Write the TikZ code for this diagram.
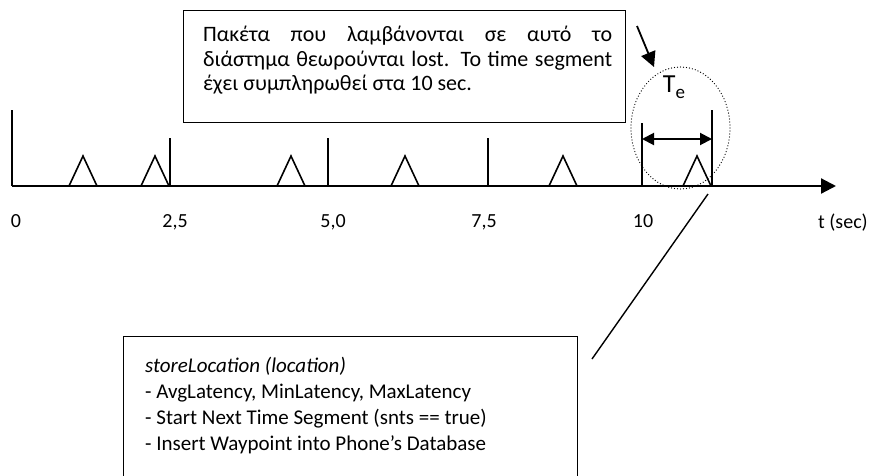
\documentclass[tikz,border=0pt]{standalone}
\usepackage{fontspec}
\setmainfont{Carlito}
\usetikzlibrary{arrows.meta,shapes.geometric}
\begin{document}
\begin{tikzpicture}[x=1pt,y=-1pt,
  axisline/.style={line width=2.2pt},
  tickline/.style={line width=1.6pt},
  pulse/.style={line width=1.6pt, line join=miter},
  boxstyle/.style={draw, line width=1.3pt, inner sep=0pt},
  lbl/.style={font=\fontsize{20}{22}\selectfont, inner sep=0pt, anchor=base},
  txt/.style={font=\fontsize{22}{24.5}\selectfont, inner sep=0pt, align=left},
  bigtip/.style={-{Triangle[length=15pt,width=15pt]}},
  dbltip/.style={{Triangle[length=12pt,width=12pt]}-{Triangle[length=12pt,width=12pt]}},
  dotline/.style={line width=1.3pt, line cap=round, dash pattern=on 0pt off 3pt}
]
\clip (0,0) rectangle (871,475);
\fill[white] (0,0) rectangle (871,475);

% axis
\coordinate (o) at (12,186);
\coordinate (axend) at (836,186);
\draw[axisline,bigtip] (o) -- (axend);
\draw[tickline] (o) -- (12,110);

% ticks
\coordinate (k1) at (170,186);
\coordinate (k2) at (328,186);
\coordinate (k3) at (488,186);
\coordinate (k4) at (642,186);
\coordinate (k5) at (712,186);
\draw[tickline] (k1) -- ++(0,-48);
\draw[tickline] (k2) -- ++(0,-48);
\draw[tickline] (k3) -- ++(0,-48);
\draw[tickline] (k4) -- ++(0,-63);
\draw[tickline] (k5) -- ++(0,-76);

% pulses
\foreach \c in {83,155,291,405,563,697}
  \draw[pulse] (\c-14,186) -- (\c,156) -- (\c+14,186);

% Te window
\node[draw, ellipse, dotline, minimum width=99pt, minimum height=122pt, inner sep=0pt] (win) at (680.5,128) {};
\draw[line width=2pt, dbltip] (642,139) -- (712,139);
\node[inner sep=0pt] (te) at (674,87) {\fontsize{26}{28}\selectfont T\raisebox{-6pt}{\fontsize{19}{20}\selectfont e}};

% labels
\node[lbl] (l0) at (16,227) {0};
\node[lbl] (l1) at (175,227) {2,5};
\node[lbl] (l2) at (333,227) {5,0};
\node[lbl] (l3) at (484,227) {7,5};
\node[lbl] (l4) at (643,227) {10};
\node[lbl] (lt) at (843,228) {t (sec)};

% top note
\node[boxstyle, anchor=north west, minimum width=442pt, minimum height=112pt] (note) at (183,10) {};
\node[txt, anchor=north west] (notetxt) at (203,26) {%
\makebox[409pt][s]{Πακέτα που λαμβάνονται σε αυτό το}\\
\makebox[409pt][s]{διάστημα θεωρούνται lost. Το time segment}\\
έχει συμπληρωθεί στα 10 sec.};
\coordinate (ns) at (637,26);
\draw[line width=1.8pt, bigtip] (ns) -- (654,67);

% bottom box
\node[boxstyle, anchor=north west, minimum width=454pt, minimum height=170pt] (store) at (123,336) {};
\node[anchor=north west, inner sep=0pt, align=left, font=\fontsize{21}{26}\selectfont] (storetxt) at (145,357) {%
\textit{storeLocation (location)}\\
- AvgLatency, MinLatency, MaxLatency\\
- Start Next Time Segment (snts == true)\\
- Insert Waypoint into Phone’s Database};

% callout line
\coordinate (c1) at (708,194);
\coordinate (c2) at (592,359);
\draw[line width=1.4pt] (c1) -- (c2);
\end{tikzpicture}
\end{document}
